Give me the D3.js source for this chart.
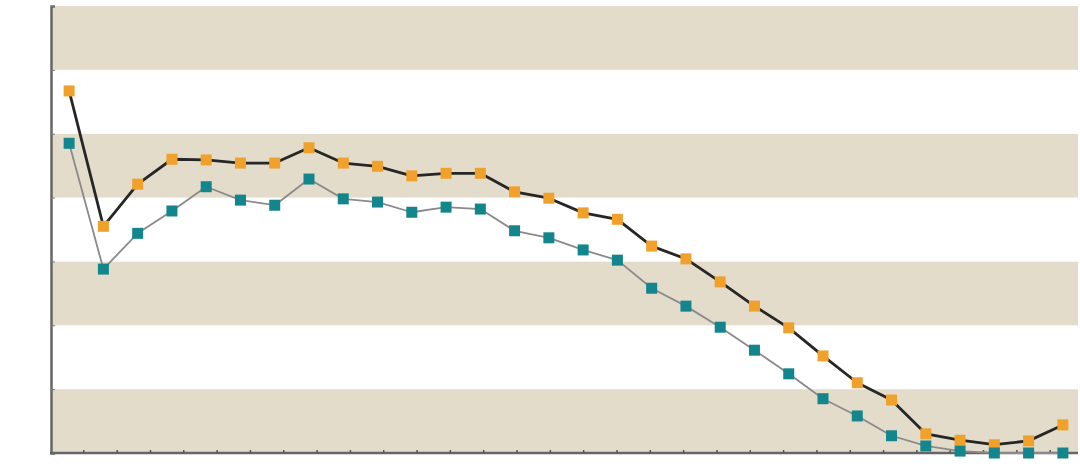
<!DOCTYPE html>
<html>
<head>
<meta charset="utf-8">
<script src="https://cdn.jsdelivr.net/npm/d3@7"></script>
<style>
  body { margin: 0; background: #fff; }
  svg { display: block; }
</style>
</head>
<body>
<div class="chart"></div>
<script>
// values (y axis 0..70, one band per 10)
const categories = d3.range(1, 31);
const orangeValues = [56.7, 35.5, 42.1, 46.0, 45.9, 45.4, 45.4, 47.8, 45.4, 44.9,
                      43.4, 43.8, 43.8, 40.9, 39.9, 37.6, 36.6, 32.4, 30.4, 26.8,
                      23.0, 19.6, 15.2, 11.0, 8.3, 3.0, 2.0, 1.3, 1.9, 4.4];
const tealValues = [48.5, 28.8, 34.4, 37.9, 41.7, 39.6, 38.8, 42.9, 39.8, 39.3,
                    37.7, 38.5, 38.2, 34.8, 33.7, 31.8, 30.2, 25.8, 23.0, 19.7,
                    16.1, 12.4, 8.5, 5.8, 2.7, 1.1, 0.3, 0, 0, 0];
const yTicks = [0, 10, 20, 30, 40, 50, 60, 70];

const width = 1080, height = 471;

const svg = d3.select('.chart')
              .append('svg')
              .attr('width', width)
              .attr('height', height);

const x = d3.scaleBand()
            .domain(categories)
            .range([52, 1080]);

const y = d3.scaleLinear()
            .domain([0, 70])
            .range([453, 6]);

// tick marks along the bottom do not line up with the points in the original
const xTickScale = d3.scaleLinear()
                     .domain([0, 31])
                     .range([50, 1083]);

// alternating bands
const bands = d3.range(0, 7);
svg.append("g")
  .selectAll("rect")
  .data(bands)
  .enter()
  .append("rect")
  .attr("x", 51)
  .attr("width", 1078 - 51)
  .attr("y", d => y((d + 1) * 10))
  .attr("height", d => y(d * 10) - y((d + 1) * 10))
  .attr("fill", d => d % 2 === 0 ? "#e3dccb" : "#ffffff");

// axes
const yAxis = svg.append("g")
  .attr("transform", "translate(51,0)")
  .call(d3.axisRight(y).tickValues(yTicks).tickSize(4).tickFormat(""));
yAxis.select(".domain").attr("stroke", "#666").attr("stroke-width", 2.5);
yAxis.selectAll(".tick line").attr("stroke", "#777").attr("stroke-width", 1);

const xAxis = svg.append("g")
  .attr("transform", "translate(0,453)")
  .call(d3.axisTop(xTickScale).tickValues(d3.range(1, 31)).tickSize(3).tickFormat(""));
xAxis.select(".domain").attr("stroke", "#666").attr("stroke-width", 2.5)
     .attr("d", "M50,0H1078");
xAxis.selectAll(".tick line").attr("stroke", "#555").attr("stroke-width", 1.5);

const cx = (d, i) => x(categories[i]) + x.bandwidth() / 2;

function drawSeries(values, lineColor, lineWidth, markerColor, size) {
  const line = d3.line()
                 .x((d, i) => cx(d, i))
                 .y(d => y(d));
  svg.append("path")
    .datum(values)
    .attr("d", line)
    .attr("fill", "none")
    .attr("stroke", lineColor)
    .attr("stroke-width", lineWidth)
    .attr("stroke-linejoin", "round");
  svg.append("g")
    .selectAll("rect")
    .data(values)
    .enter()
    .append("rect")
    .attr("x", (d, i) => cx(d, i) - size / 2)
    .attr("y", d => y(d) - size / 2)
    .attr("width", size)
    .attr("height", size)
    .attr("fill", markerColor);
}

drawSeries(orangeValues, "#262626", 2.8, "#f0a12c", 11);
drawSeries(tealValues, "#8a8a8a", 1.8, "#13868d", 11);
</script>
</body>
</html>
